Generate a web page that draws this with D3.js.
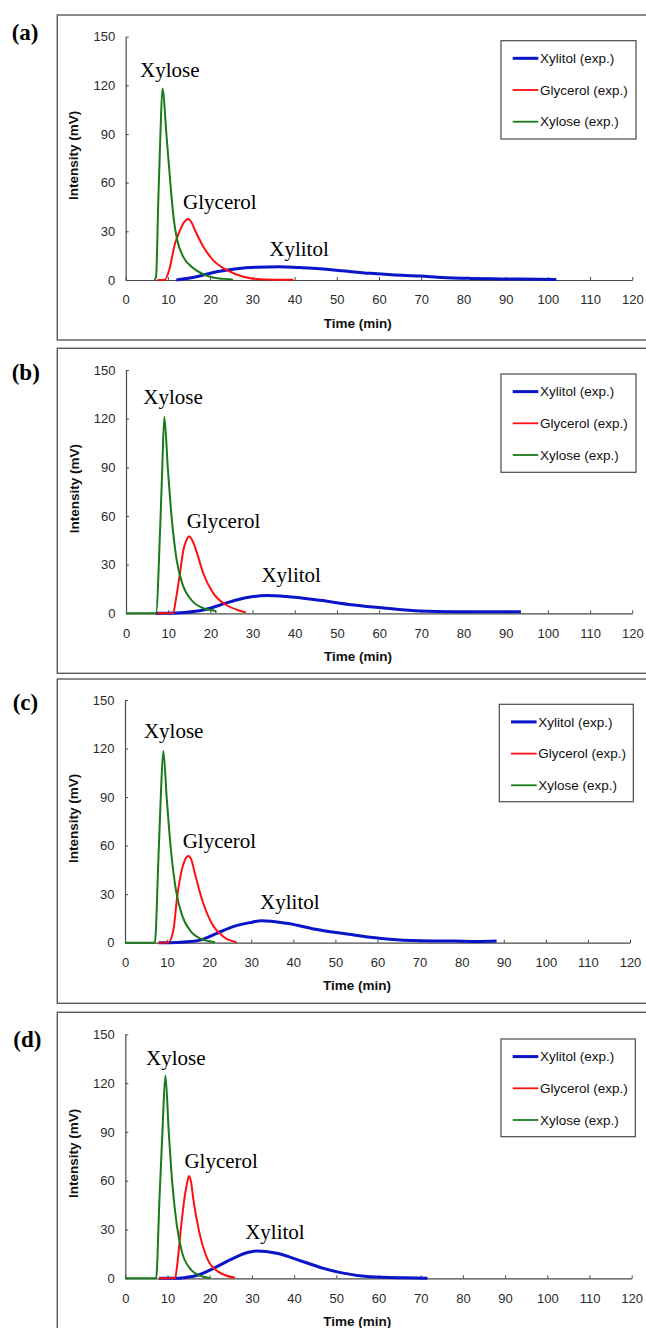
<!DOCTYPE html>
<html>
<head>
<meta charset="utf-8">
<script src="https://cdn.jsdelivr.net/npm/d3@7"></script>
<style>
html,body{margin:0;padding:0;background:#fff;}
svg{display:block;}
</style>
</head>
<body>
<svg id="chart" width="646" height="1328"></svg>
<script>
// ---------- data ----------
const panelLabels = ["(a)", "(b)", "(c)", "(d)"];
const seriesNames = ["Xylitol (exp.)", "Glycerol (exp.)", "Xylose (exp.)"];
const peakNames = ["Xylose", "Glycerol", "Xylitol"];
const xTicks = [0,10,20,30,40,50,60,70,80,90,100,110,120];
const yTicks = [0,30,60,90,120,150];

// [time (min), intensity (mV)]
const xyloseA = [[6.8,0],[7.2,2],[7.7,47],[8.2,88],[8.7,118],[9.7,88],[10.65,57.5],[11.4,37],[12.2,24.7],[13.6,14.4],[15.6,8.2],[18,4],[20.7,1.6],[24.7,0.4],[25.4,0.2]];
const glycerolA = [[7.5,0],[9.3,0.2],[10.3,6.2],[11.7,22.6],[12.9,30.8],[13.8,35.5],[14.8,37.6],[15.6,35.5],[16.4,30.8],[18.4,20.5],[20.7,12.3],[23.9,6.2],[27.9,2],[31.8,0.5],[39.7,0.1]];
const xylitolA = [[12,0],[16.8,2],[21.5,5.1],[26.3,7],[31,7.9],[36.5,8.2],[41,7.7],[46,7],[52,5.5],[57.9,4.1],[63,3.2],[69.7,2.5],[75,1.6],[81.5,1],[87,0.7],[93.4,0.6],[102,0.3]];

const xyloseB = [[0,0],[7.1,0],[8.05,49],[8.6,90],[9.08,121],[9.9,90],[10.8,59.6],[12,32.9],[13.6,16.4],[15.5,8.2],[18.3,3.1],[21.1,1.4],[21.4,0.5]];
const glycerolB = [[7.5,0],[11.2,0.2],[11.8,8.2],[12.8,24.7],[13.6,39],[14.3,45],[15,47.3],[15.7,45],[16.6,39],[18.3,24.7],[20.7,12.3],[23.8,5.1],[27,1.6],[28.4,0.5]];
const xylitolB = [[7,0],[9.6,0],[14,0.5],[18.3,2],[22.3,5.1],[26.2,8.2],[30.2,10.3],[33.3,10.9],[38,10.3],[45.9,8],[53.5,5.3],[61.7,3.1],[69.6,1.4],[77.5,1],[85.4,1],[93.6,1]];

const xyloseC = [[0,0],[7.1,0],[7.9,49],[8.5,90],[9.1,118.7],[9.9,90],[10.85,59],[12.1,32.5],[13.7,16],[15.4,7.8],[17.8,2.7],[21.4,0.3]];
const glycerolC = [[8,0],[10.3,0.2],[11.5,7.8],[12.4,28.4],[13.5,45],[14.3,51.5],[15.05,53.6],[15.8,51],[16.4,45],[18.1,28.4],[20.6,12],[23.4,3.7],[26.5,0.3]];
const xylitolC = [[8,0],[10.7,0],[14,0.4],[17.8,1.6],[21.8,5.8],[25.7,9.9],[29.7,12.4],[32.5,13.6],[38.4,12],[46.3,7.8],[54.3,4.8],[62.2,2.3],[70.1,1.2],[78,1],[84.4,0.8],[88.3,1]];

const xyloseD = [[0,0],[7.3,0],[8.1,49],[8.8,90],[9.5,124.6],[10.3,90],[11.1,59.4],[12.2,32.8],[13.4,16.4],[15.3,6.1],[17.7,1.6],[20.1,0.2]];
const glycerolD = [[8,0],[11.8,0.2],[12.3,8.2],[13.1,28.7],[14,49],[14.6,58],[15.1,62.9],[15.6,59],[16.1,49],[17.5,28.7],[19.4,12.3],[22,4.1],[26,0.3]];
const xylitolD = [[8,0],[11.4,0],[14,0.4],[17.3,2],[20.9,6.1],[24.8,11.3],[28.4,15.4],[31.1,16.8],[35.9,15.4],[42.2,10.2],[47,6.1],[51,3.5],[58,1],[65.9,0.3],[71.6,0.1]];

// label anchor positions in data units [time, intensity]
const labelPosA = [[3.4,125],[13.6,43.6],[34,15]];
const labelPosB = [[4.1,128.9],[14.4,52.3],[32.1,19.1]];
const labelPosC = [[4.5,126.7],[13.7,58.7],[32.1,20.6]];
const labelPosD = [[4.9,131],[14,67.6],[28.4,24.2]];

const panelData = [
  {xylitol: xylitolA, glycerol: glycerolA, xylose: xyloseA, labels: labelPosA},
  {xylitol: xylitolB, glycerol: glycerolB, xylose: xyloseB, labels: labelPosB},
  {xylitol: xylitolC, glycerol: glycerolC, xylose: xyloseC, labels: labelPosC},
  {xylitol: xylitolD, glycerol: glycerolD, xylose: xyloseD, labels: labelPosD}
];

// ---------- layout ----------
const layouts = [
  {boxTop:15,   boxBot:340,    x0:125.7, x1:632.3, yTop:36.7,   yBot:280,    leg:{x:501,  y:40.7,  w:135, h:98.3}, lab:{x:11.7, y:40}},
  {boxTop:348.3,boxBot:673.3,  x0:126,   x1:632.3, yTop:370,    yBot:613.3,  leg:{x:501,  y:374,   w:135, h:98.3}, lab:{x:11.7, y:380}},
  {boxTop:679,  boxBot:1003.3, x0:125,   x1:630,   yTop:700,    yBot:942.7,  leg:{x:499.3,y:704.3, w:134, h:97.4}, lab:{x:12.7, y:710}},
  {boxTop:1012.3,boxBot:1337,  x0:125.3, x1:631.7, yTop:1034.3, yBot:1278.3, leg:{x:501,  y:1039,  w:134.3,h:97.7}, lab:{x:13.3, y:1046.7}}
];

const colors = {xylitol:"#0a14c8", glycerol:"#ff1010", xylose:"#1a7a1a"};
const widths = {xylitol:3, glycerol:2, xylose:2};
const sans = "'Liberation Sans', Arial, Helvetica, sans-serif";
const serif = "'Liberation Serif', 'Times New Roman', Times, serif";

const svg = d3.select("#chart");

panelData.forEach((pd, i) => {
  const L = layouts[i];
  const g = svg.append("g");

  // frame
  g.append("rect")
    .attr("x", 57.3).attr("y", L.boxTop)
    .attr("width", 700).attr("height", L.boxBot - L.boxTop)
    .attr("fill", "none").attr("stroke", "#5a5a5a").attr("stroke-width", 1.4);

  // panel label
  g.append("text")
    .attr("x", L.lab.x).attr("y", L.lab.y)
    .attr("font-family", serif).attr("font-weight", "bold").attr("font-size", 23)
    .attr("fill", "#000").text(panelLabels[i]);

  const x = d3.scaleLinear().domain([0,120]).range([L.x0, L.x1]);
  const y = d3.scaleLinear().domain([0,150]).range([L.yBot, L.yTop]);

  // axes
  const xAxis = d3.axisBottom(x).tickValues(xTicks).tickSizeInner(-3).tickSizeOuter(0).tickPadding(15);
  const yAxis = d3.axisLeft(y).tickValues(yTicks).tickSizeInner(-3).tickSizeOuter(0).tickPadding(10.5);

  const gx = g.append("g").attr("transform", `translate(0,${L.yBot})`).call(xAxis);
  const gy = g.append("g").attr("transform", `translate(${L.x0},0)`).call(yAxis);
  [gx, gy].forEach(ax => {
    ax.select(".domain").attr("stroke", "#4a4a4a").attr("stroke-width", 1.2);
    ax.selectAll(".tick line").attr("stroke", "#4a4a4a").attr("stroke-width", 1);
    ax.selectAll(".tick text").attr("font-family", sans).attr("font-size", 13).attr("fill", "#2a2a2a");
  });

  // axis titles
  g.append("text")
    .attr("x", L.x0 + 232).attr("y", L.yBot + 43).attr("dy", "0.35em")
    .attr("text-anchor", "middle")
    .attr("font-family", sans).attr("font-weight", "bold").attr("font-size", 13.5)
    .attr("fill", "#111").text("Time (min)");
  g.append("text")
    .attr("transform", `translate(${L.x0 - 52},${(L.yTop + L.yBot)/2 - 3}) rotate(-90)`)
    .attr("dy", "0.35em").attr("text-anchor", "middle")
    .attr("font-family", sans).attr("font-weight", "bold").attr("font-size", 13.5)
    .attr("fill", "#111").text("Intensity (mV)");

  // curves
  const line = d3.line().x(d => x(d[0])).y(d => y(d[1])).curve(d3.curveMonotoneX);
  ["xylitol", "glycerol", "xylose"].forEach(k => {
    g.append("path").datum(pd[k])
      .attr("d", line)
      .attr("fill", "none")
      .attr("stroke", colors[k])
      .attr("stroke-width", widths[k])
      .attr("stroke-linejoin", "round");
  });

  // peak labels
  pd.labels.forEach((p, j) => {
    g.append("text")
      .attr("x", x(p[0])).attr("y", y(p[1]))
      .attr("font-family", serif).attr("font-size", 21)
      .attr("fill", "#000").text(peakNames[j]);
  });

  // legend
  const lg = g.append("g").attr("transform", `translate(${L.leg.x},${L.leg.y})`);
  lg.append("rect").attr("width", L.leg.w).attr("height", L.leg.h)
    .attr("fill", "#fff").attr("stroke", "#4a4a4a").attr("stroke-width", 1.2);
  ["xylitol", "glycerol", "xylose"].forEach((k, j) => {
    const yy = 17.6 + j * 31.7;
    lg.append("line").attr("x1", 11.7).attr("x2", 37.3).attr("y1", yy).attr("y2", yy)
      .attr("stroke", colors[k]).attr("stroke-width", k === "xylitol" ? 3 : 1.8);
    lg.append("text").attr("x", 39).attr("y", yy).attr("dy", "0.35em")
      .attr("font-family", sans).attr("font-size", 13.5).attr("fill", "#111")
      .text(seriesNames[j]);
  });
});
</script>
</body>
</html>
